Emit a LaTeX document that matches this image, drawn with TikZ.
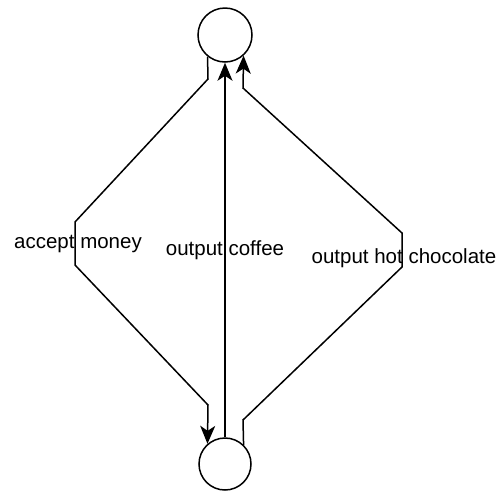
\documentclass[tikz,border=0pt]{standalone}
\usepackage{fontspec}
\setmainfont{Liberation Sans}
\usetikzlibrary{arrows.meta}
\begin{document}
\begin{tikzpicture}[x=1pt,y=-1pt,
  state/.style={draw,circle,line width=1.5pt,minimum size=54pt,inner sep=0pt},
  trans/.style={line width=1.5pt,-{Stealth[length=18pt,width=15pt,inset=5pt]}},
  lbl/.style={inner sep=0pt,font=\fontsize{20.5}{24}\selectfont}]
\useasboundingbox (0,0) rectangle (501,491);
\node[state] (top) at (225,35) {};
\node[state,minimum size=52pt] (bot) at (225,464) {};
% accept money: top -> bottom, along the left
\draw[trans] (top.231) -- (208,79) -- (75,222) -- (75,265) -- (208,405) -- (bot.131);
% output coffee: straight up the middle
\draw[trans] (bot.north) -- (top.south);
% output hot chocolate: bottom -> top, along the right
\draw[trans] (bot.46) -- (243,420) -- (402,267) -- (402,233) -- (243,88) -- (top.312);
\node[lbl] (l1) at (78,244) {accept money};
\node[lbl] (l2) at (225,250) {output coffee};
\node[lbl] (l3) at (404,258) {output hot chocolate};
\end{tikzpicture}
\end{document}
